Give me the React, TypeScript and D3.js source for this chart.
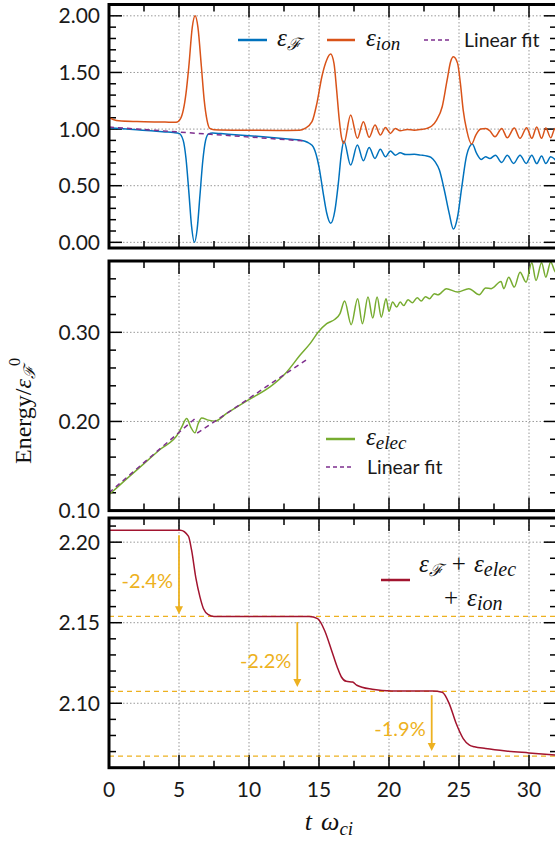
import React from "react";
import * as d3 from "d3";

// ---------- data ----------
const fieldT = [0, 1, 2, 3, 4, 4.6, 5.0, 5.3, 5.5, 5.7, 5.9, 6.1, 6.3, 6.5, 6.7, 6.9, 7.1, 7.4, 8, 9, 10, 11, 12, 13, 13.6, 14.0, 14.3, 14.6, 15.0, 15.3, 15.55, 15.83, 16.14, 16.38, 16.6, 16.78, 17.26, 17.74, 18.17, 18.58, 19.0, 19.38, 19.75, 20.1, 20.45, 20.8, 21.2, 21.8, 22.3, 22.7, 23.0, 23.3, 23.6, 23.95, 24.3, 24.6, 24.9, 25.2, 25.55, 25.95, 26.26, 26.6, 26.9, 27.2, 27.6, 28.05, 28.45, 28.9, 29.36, 29.8, 30.2, 30.55, 30.9, 31.2, 31.55, 32];
const fieldE = [1.012, 1.003, 0.994, 0.985, 0.975, 0.969, 0.962, 0.9, 0.74, 0.45, 0.14, 0.0, 0.12, 0.42, 0.72, 0.9, 0.955, 0.965, 0.96, 0.95, 0.942, 0.932, 0.921, 0.91, 0.903, 0.893, 0.875, 0.84, 0.667, 0.435, 0.259, 0.168, 0.285, 0.52, 0.785, 0.894, 0.682, 0.859, 0.72, 0.838, 0.741, 0.823, 0.755, 0.806, 0.77, 0.79, 0.775, 0.777, 0.77, 0.762, 0.75, 0.71, 0.638, 0.462, 0.256, 0.117, 0.226, 0.49, 0.77, 0.868, 0.785, 0.732, 0.756, 0.74, 0.77, 0.706, 0.77, 0.697, 0.77, 0.697, 0.77, 0.695, 0.762, 0.695, 0.755, 0.71];

const ionT = [0, 0.3, 0.7, 2, 4, 4.8, 5.1, 5.5, 5.7, 5.95, 6.15, 6.35, 6.6, 6.8, 7.0, 7.2, 7.5, 10, 12, 13.6, 14.0, 14.5, 14.85, 15.2, 15.55, 15.83, 16.07, 16.26, 16.45, 16.6, 16.78, 17.26, 17.74, 18.17, 18.58, 19.0, 19.38, 19.75, 20.1, 20.45, 20.8, 21.3, 21.8, 22.3, 22.7, 23.05, 23.4, 23.8, 24.15, 24.4, 24.6, 24.9, 25.1, 25.3, 25.55, 25.9, 26.2, 26.55, 26.9, 27.2, 27.57, 28.05, 28.45, 28.95, 29.36, 29.83, 30.2, 30.55, 30.9, 31.2, 31.55, 31.86, 32];
const ionE = [1.1, 1.085, 1.073, 1.066, 1.062, 1.06, 1.09, 1.315, 1.55, 1.9, 2.0, 1.9, 1.55, 1.256, 1.08, 1.006, 0.995, 0.99, 0.988, 0.99, 1.006, 1.065, 1.227, 1.46, 1.61, 1.662, 1.58, 1.344, 1.08, 0.932, 0.874, 1.124, 0.918, 1.065, 0.927, 1.035, 0.947, 1.015, 0.962, 1.006, 0.985, 0.997, 0.99, 0.997, 1.006, 1.027, 1.08, 1.197, 1.432, 1.594, 1.638, 1.58, 1.403, 1.168, 0.991, 0.868, 0.947, 1.0, 1.006, 0.985, 0.932, 1.006, 0.923, 1.01, 0.918, 1.012, 0.918, 1.018, 0.918, 1.01, 0.923, 1.006, 0.98];

const fitFieldT = [0, 14.1];
const fitFieldE = [1.018, 0.894];

const elecT = [0, 0.3, 1, 2.5, 3.64, 4.95, 5.2, 5.55, 5.83, 6.14, 6.38, 6.62, 7.1, 7.57, 8.4, 10, 11.5, 12.7, 13.64, 14.36, 14.95, 15.55, 16.14, 16.5, 16.83, 17.3, 17.76, 18.1, 18.5, 18.84, 19.15, 19.45, 19.79, 20.0, 20.26, 20.55, 20.8, 21.05, 21.36, 21.67, 22.02, 22.3, 22.6, 22.9, 23.24, 23.5, 24.1, 24.9, 25.7, 26.45, 26.9, 27.3, 28.0, 28.2, 28.55, 28.95, 29.36, 29.79, 30.2, 30.5, 30.9, 31.2, 31.55, 31.9, 32];
const elecE = [0.118, 0.122, 0.132, 0.1527, 0.1685, 0.1866, 0.194, 0.2033, 0.194, 0.1872, 0.198, 0.204, 0.2015, 0.2003, 0.209, 0.2246, 0.2388, 0.2556, 0.2742, 0.2873, 0.3003, 0.3097, 0.3146, 0.321, 0.335, 0.3086, 0.3377, 0.3097, 0.3395, 0.316, 0.3395, 0.317, 0.3377, 0.3235, 0.334, 0.3283, 0.334, 0.33, 0.3366, 0.3332, 0.3389, 0.335, 0.34, 0.3377, 0.3433, 0.342, 0.349, 0.3451, 0.349, 0.3422, 0.3496, 0.349, 0.357, 0.349, 0.3619, 0.3507, 0.3675, 0.3563, 0.378, 0.3582, 0.378, 0.3619, 0.379, 0.3675, 0.372];

const fitElec1T = [0, 6.2];
const fitElec1E = [0.12, 0.204];
const fitElec2T = [6.3, 14.24];
const fitElec2E = [0.1869, 0.2706];

const totalT = [0, 5.1, 5.67, 5.9, 6.2, 6.5, 6.75, 7.1, 7.5, 14.3, 14.9, 15.4, 15.9, 16.3, 16.6, 16.95, 17.4, 17.7, 18.8, 20.2, 23.1, 23.8, 24.3, 24.8, 25.3, 25.75, 26.1, 26.9, 28.35, 30, 32];
const totalE = [2.2074, 2.2074, 2.2037, 2.195, 2.178, 2.1659, 2.1587, 2.155, 2.1539, 2.1539, 2.1525, 2.1452, 2.1328, 2.1225, 2.1163, 2.1136, 2.1132, 2.1112, 2.1087, 2.1076, 2.1076, 2.1068, 2.0998, 2.0874, 2.0781, 2.074, 2.073, 2.0719, 2.0704, 2.0692, 2.0678];

const levelE = [2.1539, 2.1074, 2.0672];
const arrowT = [5.0, 13.45, 23.05];
const arrowFrom = [2.2043, 2.1504, 2.105];
const arrowTo = [2.1553, 2.1101, 2.0704];
const dropLabels = ["-2.4%", "-2.2%", "-1.9%"];

const xTicks = [0, 5, 10, 15, 20, 25, 30];
const p1Major = [0, 0.5, 1, 1.5, 2];
const p2Major = [0.1, 0.2, 0.3];
const p3Major = [2.1, 2.15, 2.2];

// ---------- styles ----------
const C = {
  blue: "#0072BD",
  orange: "#D95319",
  green: "#77AC30",
  purple: "#7E2F8E",
  crimson: "#A2142F",
  gold: "#EDB120",
};
const SANS = "Lato, 'Open Sans', sans-serif";
const SERIF = "'Liberation Serif', 'DejaVu Serif', serif";

const X0 = 109;
const X1 = 557;
const x = d3.scaleLinear().domain([0, 32]).range([X0, X1]);

type PanelDef = {
  id: string;
  top: number;
  bottom: number;
  domain: [number, number];
  majors: number[];
  minorStep: number;
  fmt: (v: number) => string;
};

const panels: PanelDef[] = [
  { id: "p1", top: 4.5, bottom: 248, domain: [-0.05, 2.1], majors: p1Major, minorStep: 0.1, fmt: d3.format(".2f") },
  { id: "p2", top: 261, bottom: 510.6, domain: [0.1, 0.38], majors: p2Major, minorStep: 0.02, fmt: d3.format(".2f") },
  { id: "p3", top: 518, bottom: 767.7, domain: [2.06, 2.215], majors: p3Major, minorStep: 0.01, fmt: d3.format(".2f") },
];

const yScales = panels.map((p) => d3.scaleLinear().domain(p.domain).range([p.bottom, p.top]));

function zip(t: number[], v: number[]): [number, number][] {
  return t.map((d, i) => [d, v[i]]);
}

function linePath(t: number[], v: number[], y: d3.ScaleLinear<number, number>, curve: any = d3.curveMonotoneX) {
  const g = d3
    .line<[number, number]>()
    .x((d) => x(d[0]))
    .y((d) => y(d[1]))
    .curve(curve);
  return g(zip(t, v)) || "";
}

function minorValues(p: PanelDef) {
  const out: number[] = [];
  const start = Math.ceil(p.domain[0] / p.minorStep - 1e-6);
  const end = Math.floor(p.domain[1] / p.minorStep + 1e-6);
  for (let k = start; k <= end; k++) out.push(+(k * p.minorStep).toFixed(4));
  return out;
}

function Frame({ p, y }: { p: PanelDef; y: d3.ScaleLinear<number, number> }) {
  const xMinor: number[] = [];
  for (let k = 0; k <= 13; k++) xMinor.push(k * 2.5);
  const majorLen = 13;
  const minorLen = 7;
  const isMajorX = (v: number) => Math.abs(v % 5) < 1e-6;
  const isMajorY = (v: number) => p.majors.some((m) => Math.abs(m - v) < 1e-6);
  return (
    <g>
      {xTicks
        .filter((t) => t > 0)
        .map((t) => (
          <line key={"gx" + t} x1={x(t)} x2={x(t)} y1={p.top} y2={p.bottom} stroke="#999" strokeWidth={1} strokeDasharray="1.5,2" />
        ))}
      {p.majors.map((v) => (
        <line key={"gy" + v} x1={X0} x2={X1} y1={y(v)} y2={y(v)} stroke="#999" strokeWidth={1} strokeDasharray="1.5,2" />
      ))}
      {xMinor.map((t) => {
        const L = isMajorX(t) ? majorLen : minorLen;
        return (
          <g key={"tx" + t}>
            <line x1={x(t)} x2={x(t)} y1={p.bottom} y2={p.bottom - L} stroke="#000" strokeWidth={1.5} />
            <line x1={x(t)} x2={x(t)} y1={p.top} y2={p.top + L} stroke="#000" strokeWidth={1.5} />
          </g>
        );
      })}
      {minorValues(p).map((v) => {
        const L = isMajorY(v) ? majorLen : minorLen;
        return (
          <g key={"ty" + v}>
            <line x1={X0} x2={X0 + L} y1={y(v)} y2={y(v)} stroke="#000" strokeWidth={1.5} />
            <line x1={X1} x2={X1 - L} y1={y(v)} y2={y(v)} stroke="#000" strokeWidth={1.5} />
          </g>
        );
      })}
      {p.majors.map((v) => (
        <text key={"ly" + v} x={100} y={y(v)} dy="0.36em" textAnchor="end" fontFamily={SANS} fontSize={21} fill="#1a1a1a">
          {p.fmt(v)}
        </text>
      ))}
    </g>
  );
}

export default function App() {
  const [y1, y2, y3] = yScales;
  return (
    <svg width={555} height={841} viewBox="0 0 555 841" style={{ position: "absolute", left: 0, top: 0, background: "#fff" }}>
      <defs>
        {panels.map((p) => (
          <clipPath id={"clip-" + p.id} key={p.id}>
            <rect x={X0} y={p.top} width={X1 - X0} height={p.bottom - p.top} />
          </clipPath>
        ))}
      </defs>
      <rect x={0} y={0} width={555} height={841} fill="#fff" />

      {panels.map((p, i) => (
        <Frame key={p.id} p={p} y={yScales[i]} />
      ))}

      {/* Panel 1 */}
      <g clipPath="url(#clip-p1)" fill="none">
        <path d={linePath(fieldT, fieldE, y1)} stroke={C.blue} strokeWidth={1.5} />
        <path d={linePath(ionT, ionE, y1)} stroke={C.orange} strokeWidth={1.5} />
        <path d={linePath(fitFieldT, fitFieldE, y1, d3.curveLinear)} stroke={C.purple} strokeWidth={1.5} strokeDasharray="5,4" />
      </g>
      <g>
        <line x1={238} x2={267} y1={40} y2={40} stroke={C.blue} strokeWidth={2.5} />
        <text x={277} y={46} fontFamily={SERIF} fontStyle="italic" fontSize={25} fill="#111">
          ε<tspan fontSize={17} dy={4}>ℱ</tspan>
        </text>
        <line x1={327} x2={355} y1={40} y2={40} stroke={C.orange} strokeWidth={2.5} />
        <text x={366} y={46} fontFamily={SERIF} fontStyle="italic" fontSize={25} fill="#111">
          ε<tspan fontSize={19} dy={4}>ion</tspan>
        </text>
        <line x1={424} x2={450} y1={40} y2={40} stroke={C.purple} strokeWidth={1.5} strokeDasharray="4,3" />
        <text x={464} y={47} fontFamily={SANS} fontSize={19.5} fill="#1a1a1a">
          Linear fit
        </text>
      </g>

      {/* Panel 2 */}
      <g clipPath="url(#clip-p2)" fill="none">
        <path d={linePath(elecT, elecE, y2)} stroke={C.green} strokeWidth={1.5} />
        <path d={linePath(fitElec1T, fitElec1E, y2, d3.curveLinear)} stroke={C.purple} strokeWidth={1.5} strokeDasharray="5,4" />
        <path d={linePath(fitElec2T, fitElec2E, y2, d3.curveLinear)} stroke={C.purple} strokeWidth={1.5} strokeDasharray="5,4" />
      </g>
      <g>
        <line x1={326} x2={355} y1={439} y2={439} stroke={C.green} strokeWidth={2.5} />
        <text x={366} y={445} fontFamily={SERIF} fontStyle="italic" fontSize={25} fill="#111">
          ε<tspan fontSize={19} dy={4}>elec</tspan>
        </text>
        <line x1={326} x2={352} y1={467} y2={467} stroke={C.purple} strokeWidth={1.5} strokeDasharray="4,3" />
        <text x={367} y={474} fontFamily={SANS} fontSize={19.5} fill="#1a1a1a">
          Linear fit
        </text>
      </g>

      {/* Panel 3 */}
      <g clipPath="url(#clip-p3)" fill="none">
        {levelE.map((v, i) => (
          <line key={"lv" + i} x1={X0} x2={X1} y1={y3(v)} y2={y3(v)} stroke={C.gold} strokeWidth={1.3} strokeDasharray="5,4" />
        ))}
        <path d={linePath(totalT, totalE, y3)} stroke={C.crimson} strokeWidth={1.5} />
      </g>
      {arrowT.map((t, i) => {
        const ax = x(t);
        const ya = y3(arrowFrom[i]);
        const yb = y3(arrowTo[i]);
        const mid = (ya + yb) / 2;
        return (
          <g key={"ar" + i}>
            <line x1={ax} x2={ax} y1={ya} y2={yb - 6} stroke={C.gold} strokeWidth={1.8} />
            <path d={`M${ax - 4},${yb - 8} L${ax + 4},${yb - 8} L${ax},${yb} Z`} fill={C.gold} />
            <text x={ax - 6} y={mid + 13} textAnchor="end" fontFamily={SANS} fontSize={20} fill={C.gold}>
              {dropLabels[i]}
            </text>
          </g>
        );
      })}
      <g>
        <line x1={381} x2={410} y1={580} y2={580} stroke={C.crimson} strokeWidth={2.5} />
        <text x={419} y={572} fontFamily={SERIF} fontSize={25} fill="#111">
          <tspan fontStyle="italic">ε</tspan>
          <tspan fontStyle="italic" fontSize={17} dy={4}>ℱ</tspan>
          <tspan dy={-4} dx={9}>+</tspan>
          <tspan fontStyle="italic" dx={8}>ε</tspan>
          <tspan fontStyle="italic" fontSize={20} dy={4}>elec</tspan>
        </text>
        <text x={444} y={606} fontFamily={SERIF} fontSize={25} fill="#111">
          <tspan>+</tspan>
          <tspan fontStyle="italic" dx={9}>ε</tspan>
          <tspan fontStyle="italic" fontSize={20} dy={4}>ion</tspan>
        </text>
      </g>

      {panels.map((p) => (
        <rect key={"b" + p.id} x={X0} y={p.top} width={X1 - X0} height={p.bottom - p.top} fill="none" stroke="#000" strokeWidth={3} />
      ))}

      {xTicks.map((t) => (
        <text key={"lx" + t} x={x(t)} y={797} textAnchor="middle" fontFamily={SANS} fontSize={21} fill="#1a1a1a">
          {t}
        </text>
      ))}

      <text x={329} y={830} textAnchor="middle" fontFamily={SERIF} fontSize={26} fill="#111">
        <tspan fontStyle="italic">t</tspan>
        <tspan dx={9} fontStyle="italic">ω</tspan>
        <tspan fontStyle="italic" fontSize={19} dy={5}>ci</tspan>
      </text>
      <text transform="translate(31,411) rotate(-90)" textAnchor="middle" fontFamily={SERIF} fontSize={24} fill="#111">
        <tspan>Energy/</tspan>
        <tspan fontStyle="italic">ε</tspan>
        <tspan fontStyle="italic" fontSize={16} dy={4}>ℱ</tspan>
        <tspan fontSize={16} dy={-15}>0</tspan>
      </text>
    </svg>
  );
}
